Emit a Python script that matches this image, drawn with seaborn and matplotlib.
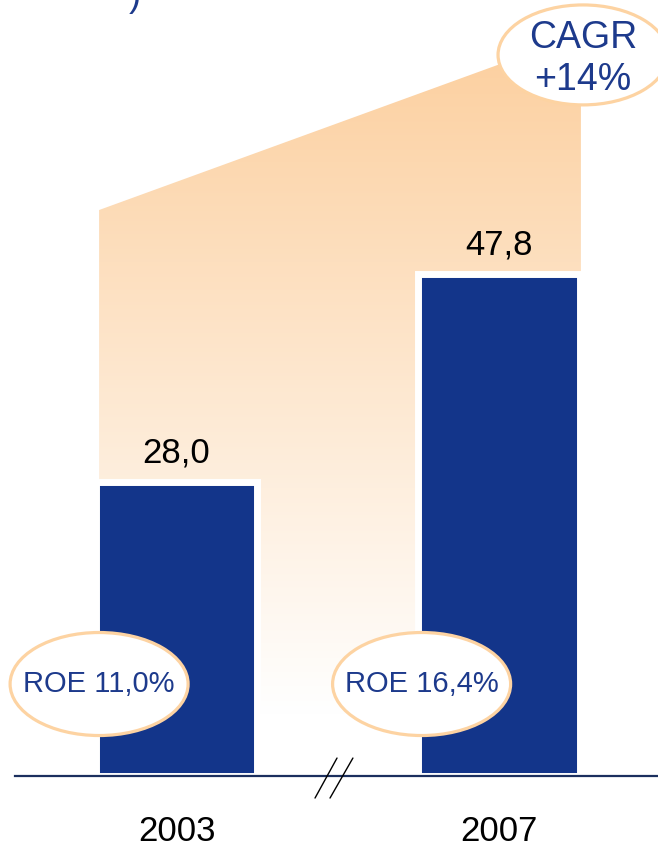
import numpy as np
import pandas as pd
import matplotlib
matplotlib.use("Agg")
import matplotlib.pyplot as plt
from matplotlib.patches import Ellipse, Polygon
from matplotlib.colors import LinearSegmentedColormap
import seaborn as sns

####################################################################

years = ["2003", "2007"]
values = [28.0, 47.8]
value_labels = ["28,0", "47,8"]
roe_labels = ["ROE 11,0%", "ROE 16,4%"]
cagr_label = "CAGR\n+14%"

NAVY = "#13358A"
TEXT_NAVY = "#1D3A8C"
ORANGE = "#FCCF9E"
LINE = "#1B2F5E"

sns.set_style("white")
plt.rcParams["font.family"] = ["Liberation Sans", "DejaVu Sans"]

df = pd.DataFrame({"year": years, "value": values})

fig = plt.figure(figsize=(6.58, 8.49), dpi=100)
ax = fig.add_axes([0, 73 / 849, 1, 776 / 849])

sns.barplot(data=df, x="year", y="value", color=NAVY, width=0.5,
            edgecolor="white", linewidth=5, saturation=1, ax=ax, zorder=2)

# shaded growth band behind the bars
bar_left = -0.24
band = Polygon([(bar_left, 0), (bar_left, 53.9), (1.254, 70.6), (1.254, 0)],
               closed=True, facecolor="none", edgecolor="none")
ax.add_patch(band)
cmap = LinearSegmentedColormap.from_list("fade", ["white", ORANGE])
grad = np.linspace(0, 1, 256).reshape(-1, 1)
grad = np.clip((grad - 0.08) / 0.92, 0, 1)
img = ax.imshow(grad, cmap=cmap, origin="lower", aspect="auto",
                extent=(bar_left, 1.254, 0, 70.6), zorder=0.5)
img.set_clip_path(band)
ax.set_xlim(-0.5473, 1.4930)
ax.set_ylim(0, 73.9)

# value labels above bars
for i, (v, lab) in enumerate(zip(values, value_labels)):
    ax.annotate(lab, (i, v), xytext=(0, 9), textcoords="offset points",
                ha="center", va="bottom", fontsize=25, color="black", zorder=4)

# ROE bubbles at the left edge of each bar
for i, lab in enumerate(roe_labels):
    cx = i - 0.24
    ax.add_patch(Ellipse((cx, 8.76), 0.552, 9.81, facecolor="white",
                         edgecolor="#FDD3A2", linewidth=2.3, zorder=3))
    ax.text(cx, 8.76, lab, ha="center", va="center", fontsize=21,
            color=TEXT_NAVY, zorder=4)

# CAGR bubble
ax.add_patch(Ellipse((1.2605, 68.67), 0.527, 9.52, facecolor="white",
                     edgecolor="#FDD3A2", linewidth=2.3, zorder=3, clip_on=False))
ax.text(1.2605, 68.3, cagr_label, ha="center", va="center", fontsize=27,
        color=TEXT_NAVY, linespacing=1.2, zorder=4)

# axis styling
for s in ["top", "right", "left"]:
    ax.spines[s].set_visible(False)
ax.spines["bottom"].set_color(LINE)
ax.spines["bottom"].set_linewidth(1.6)
ax.spines["bottom"].set_bounds(-0.5008, 1.4930)
ax.set_yticks([])
ax.set_xlabel("")
ax.set_ylabel("")
ax.tick_params(axis="x", length=0, pad=28, labelsize=25, labelcolor="black")

# axis break marks
for x0, x1 in [(0.4295, 0.4977), (0.476, 0.547)]:
    ax.plot([x0, x1], [-2.1, 1.71], color="black", linewidth=1.0,
            clip_on=False, zorder=5)

# fragment of the cut-off title
fig.text(135 / 658, 1 - 6 / 849, ")", ha="center", va="baseline",
         fontsize=26, color=TEXT_NAVY)

fig.savefig("out.png", dpi=100)
